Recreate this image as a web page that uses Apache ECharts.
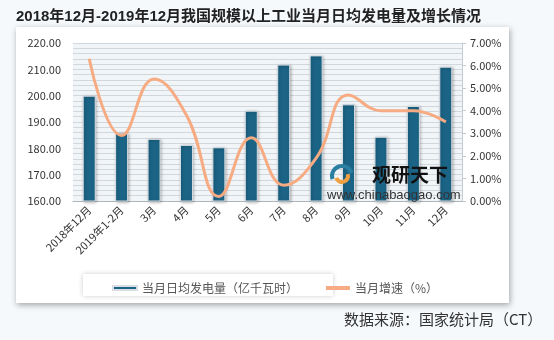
<!DOCTYPE html>
<html><head><meta charset="utf-8">
<script src="https://cdn.jsdelivr.net/npm/echarts@6/dist/echarts.min.js"></script>
<style>html,body{margin:0;padding:0;background:#f6f9fc}#c{width:554px;height:340px}</style>
</head><body><div id="c"></div>
<script>
const categories = ['2018年12月','2019年1-2月','3月','4月','5月','6月','7月','8月','9月','10月','11月','12月'];
const dailyPower = [200.0, 185.9, 183.6, 181.3, 180.4, 194.3, 211.8, 215.3, 196.7, 184.4, 196.1, 211.0];
const growthRate = [0.063, 0.029, 0.054, 0.038, 0.002, 0.028, 0.007, 0.019, 0.047, 0.040, 0.040, 0.035];
const leftTicks = [160, 220, 10];
const rightTicks = [0, 0.07, 0.01];
const seriesNames = ['当月日均发电量（亿千瓦时）', '当月增速（%）'];
const titleText = '2018年12月-2019年12月我国规模以上工业当月日均发电量及增长情况';
const sourceText = '数据来源：国家统计局（CT）';

const chart = echarts.init(document.getElementById('c'), null, {renderer:'canvas'});
const font = '"Noto Sans CJK SC","Liberation Sans",sans-serif';
chart.setOption({
  backgroundColor: '#f6f9fc',
  animation: false,
  textStyle: {fontFamily: font},
  title: {text: titleText, left: 11, top: 4, textStyle: {fontSize: 15, fontWeight: 'bold', color: '#222', fontFamily: '"Liberation Sans","Noto Sans CJK SC",sans-serif'}},
  graphic: [
    {type:'rect', z:-10, shape:{x:16,y:27,width:493,height:276}, style:{fill:'#fff', shadowBlur:6, shadowColor:'rgba(0,0,0,0.35)', shadowOffsetX:1, shadowOffsetY:2}},
    {type:'rect', z:-9, shape:{x:83,y:274,width:250,height:22}, style:{fill:'#fff', shadowBlur:5, shadowColor:'rgba(0,0,0,0.2)'}},
    {type:'text', left:344, top:312, style:{text:sourceText, fontSize:15, fill:'#333', fontFamily:font}},
    {type:'arc', z:50, shape:{cx:342,cy:176,r:10,startAngle:Math.PI*0.9,endAngle:Math.PI*1.9}, style:{stroke:'#2a7fa0', lineWidth:4, fill:null}},
    {type:'arc', z:50, shape:{cx:342,cy:176,r:6,startAngle:Math.PI*1.9,endAngle:Math.PI*2.9}, style:{stroke:'#f0a040', lineWidth:4, fill:null}},
    {type:'text', z:50, left:372, top:165, style:{text:'观研天下', fontSize:19, fontWeight:'bold', fill:'#111', fontFamily:font}},
    {type:'text', z:50, left:327, top:189, style:{text:'www.chinabaogao.com', fontSize:13, fill:'#333', fontFamily:'"Liberation Sans",sans-serif'}}
  ],
  legend: {
    left: 107, top: 277, itemGap: 28, itemWidth: 24, itemHeight: 4,
    textStyle: {fontSize: 12, color: '#555'},
    data: [
      {name: seriesNames[0], icon: 'rect'},
      {name: seriesNames[1], icon: 'rect', itemStyle:{color:'#f6ab82'}}
    ]
  },
  grid: {left: 73, right: 92, top: 43, bottom: 139, show: true, backgroundColor: '#f2f5f8', borderWidth: 0},
  xAxis: {
    type: 'category', data: categories,
    axisLine: {lineStyle: {color: '#aeb6bc'}},
    axisTick: {show: false},
    axisLabel: {rotate: 45, fontSize: 11, color: '#333', margin: 7, interval: 0}
  },
  yAxis: [
    {type:'value', min:leftTicks[0], max:leftTicks[1], interval:leftTicks[2],
     axisLine:{show:false}, axisTick:{show:false},
     axisLabel:{fontSize:11, color:'#333', margin:12, formatter: v => v.toFixed(2)},
     splitLine:{lineStyle:{color:'#d0d7dd', width:1}},
     minorTick:{show:false, splitNumber:5},
     minorSplitLine:{show:true, lineStyle:{color:'#d0d7dd', width:1}}},
    {type:'value', min:rightTicks[0], max:rightTicks[1], interval:rightTicks[2], position:'right',
     axisLine:{show:true, lineStyle:{color:'#c4cacf'}}, axisTick:{show:true, length:4, lineStyle:{color:'#c4cacf'}},
     axisLabel:{fontSize:11, color:'#333', margin:8, formatter: v => (v*100).toFixed(2)+'%'},
     splitLine:{show:false}}
  ],
  series: [
    {name: seriesNames[0], type:'bar', data: dailyPower, barWidth: 13,
     itemStyle:{color:'#1b6486', borderColor:'#d8dfe4', borderWidth:1, shadowBlur:3, shadowColor:'rgba(0,0,0,0.3)', shadowOffsetX:1, shadowOffsetY:1}},
    {name: seriesNames[1], type:'line', yAxisIndex:1, data: growthRate, smooth: 0.45, symbol:'none',
     lineStyle:{color:'#f6ab82', width:3}, itemStyle:{color:'#f6ab82'}, z: 5}
  ]
});
</script></body></html>
